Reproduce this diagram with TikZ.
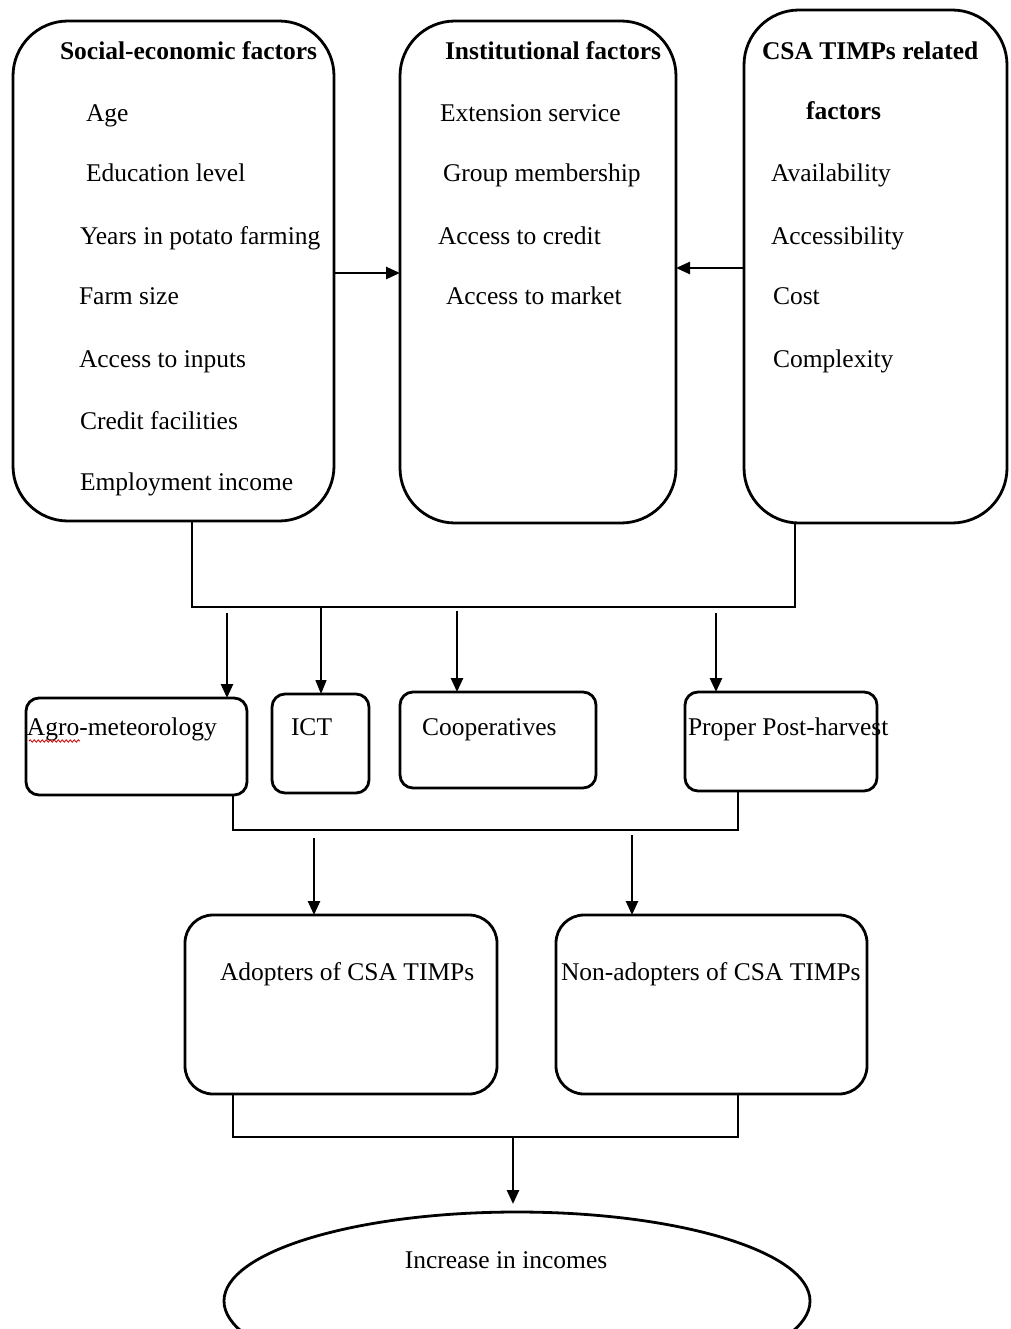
\documentclass[tikz,border=0pt]{standalone}
\usepackage{fontspec}
\setmainfont{Liberation Serif}
\usetikzlibrary{arrows.meta,shapes.geometric,decorations.pathmorphing}
\begin{document}
\begin{tikzpicture}[x=1pt,y=-1pt,
  bigbox/.style={draw,line width=2.8pt,rounded corners=55pt,inner sep=0pt,outer sep=0pt},
  midbox/.style={draw,line width=2.8pt,rounded corners=13pt,inner sep=0pt,outer sep=0pt},
  lowbox/.style={draw,line width=2.8pt,rounded corners=28pt,inner sep=0pt,outer sep=0pt},
  txt/.style={inner sep=0pt,outer sep=0pt,anchor=base west,font=\fontsize{25.5}{30}\selectfont},
  hdr/.style={txt,font=\fontsize{25.5}{30}\selectfont\bfseries},
  conn/.style={line width=2.8pt},
  arr/.style={line width=2.6pt,-{Triangle[length=14pt,width=12pt]}},
  thinarr/.style={line width=1.3pt,-{Triangle[length=14pt,width=11pt]}}]
\useasboundingbox (0,0) rectangle (1010,1329);
% top boxes
\node[bigbox,minimum width=321pt,minimum height=500pt] (b1) at (173.5,271) {};
\node[bigbox,minimum width=276pt,minimum height=502pt] (b2) at (538,272) {};
\node[bigbox,minimum width=263pt,minimum height=513pt] (b3) at (875.5,266.5) {};
% box 1 text
\node[hdr] (h1) at (60,60) {Social-economic factors};
\node[txt] (s1) at (86,122) {Age};
\node[txt] (s2) at (86,182) {Education level};
\node[txt] (s3) at (80,245) {Years in potato farming};
\node[txt] (s4) at (79,305) {Farm size};
\node[txt] (s5) at (79,367) {Access to inputs};
\node[txt] (s6) at (80,429) {Credit facilities};
\node[txt] (s7) at (80,490) {Employment income};
% box 2 text
\node[hdr] (h2) at (445,60) {Institutional factors};
\node[txt] (i1) at (440,122) {Extension service};
\node[txt] (i2) at (443,182) {Group membership};
\node[txt] (i3) at (438,245) {Access to credit};
\node[txt] (i4) at (446,305) {Access to market};
% box 3 text
\node[hdr] (h3) at (762,60) {CSA TIMPs related};
\node[hdr] (h3b) at (806,120) {factors};
\node[txt] (c1) at (771,182) {Availability};
\node[txt] (c2) at (771,245) {Accessibility};
\node[txt] (c3) at (773,305) {Cost};
\node[txt] (c4) at (773,367) {Complexity};
% arrows between top boxes
\coordinate (m1) at (0,273);
\coordinate (m2) at (0,268);
\draw[arr] (b1.east |- m1) -- (b2.west |- m1);
\draw[arr] (b3.west |- m2) -- (b2.east |- m2);
% bracket 1
\coordinate (br1) at (500,607);
\draw[conn] ([xshift=18.5pt]b1.south) |- (br1) -| ([xshift=-80.5pt]b3.south);
% middle boxes
\node[midbox,minimum width=221pt,minimum height=97pt] (agro) at (136.5,746.5) {};
\node[midbox,minimum width=97pt,minimum height=99pt] (ict) at (320.5,743.5) {};
\node[midbox,minimum width=196pt,minimum height=96pt] (coop) at (498,740) {};
\node[midbox,minimum width=192pt,minimum height=99pt] (post) at (781,741.5) {};
\node[txt] (ta) at (27,735) {Agro-meteorology};
\draw[red!80!black,line width=0.8pt,decorate,decoration={snake,amplitude=1.2pt,segment length=4pt}] (29,741) -- (80,741);
\node[txt] (ti) at (291,735) {ICT};
\node[txt] (tc) at (422,735) {Cooperatives};
\node[txt] (tp) at (688,735) {Proper Post-harvest};
% arrows to middle boxes
\coordinate (a1) at (227,613);
\coordinate (a2) at (321,607);
\coordinate (a3) at (457,611);
\coordinate (a4) at (716,613);
\draw[arr] (a1) -- (a1 |- agro.north);
\draw[thinarr] (a2) -- (a2 |- ict.north);
\draw[arr] (a3) -- (a3 |- coop.north);
\draw[arr] (a4) -- (a4 |- post.north);
% bracket 2
\coordinate (br2) at (500,830);
\draw[conn] ([xshift=96.5pt]agro.south) |- (br2) -| ([xshift=-43pt]post.south);
% lower boxes
\node[lowbox,minimum width=312pt,minimum height=179pt] (adopt) at (341,1004.5) {};
\node[lowbox,minimum width=311pt,minimum height=179pt] (non) at (711.5,1004.5) {};
\node[txt] (tad) at (220,980) {Adopters of CSA TIMPs};
\node[txt] (tno) at (561,980) {Non-adopters of CSA TIMPs};
\coordinate (a5) at (314,838);
\coordinate (a6) at (632,835);
\draw[arr] (a5) -- (a5 |- adopt.north);
\draw[arr] (a6) -- (a6 |- non.north);
% bracket 3
\coordinate (br3) at (500,1137);
\draw[conn] ([xshift=-108pt]adopt.south) |- (br3) -| ([xshift=26.5pt]non.south);
% ellipse
\node[draw,ellipse,line width=2.8pt,minimum width=586pt,minimum height=178pt,inner sep=0pt,outer sep=0pt] (inc) at (517,1301) {};
\node[txt,anchor=base] (tinc) at (506,1268) {Increase in incomes};
\coordinate (a7) at (513,1137);
\draw[arr] (a7) -- ([yshift=8pt]a7 |- inc.north);
\end{tikzpicture}
\end{document}
